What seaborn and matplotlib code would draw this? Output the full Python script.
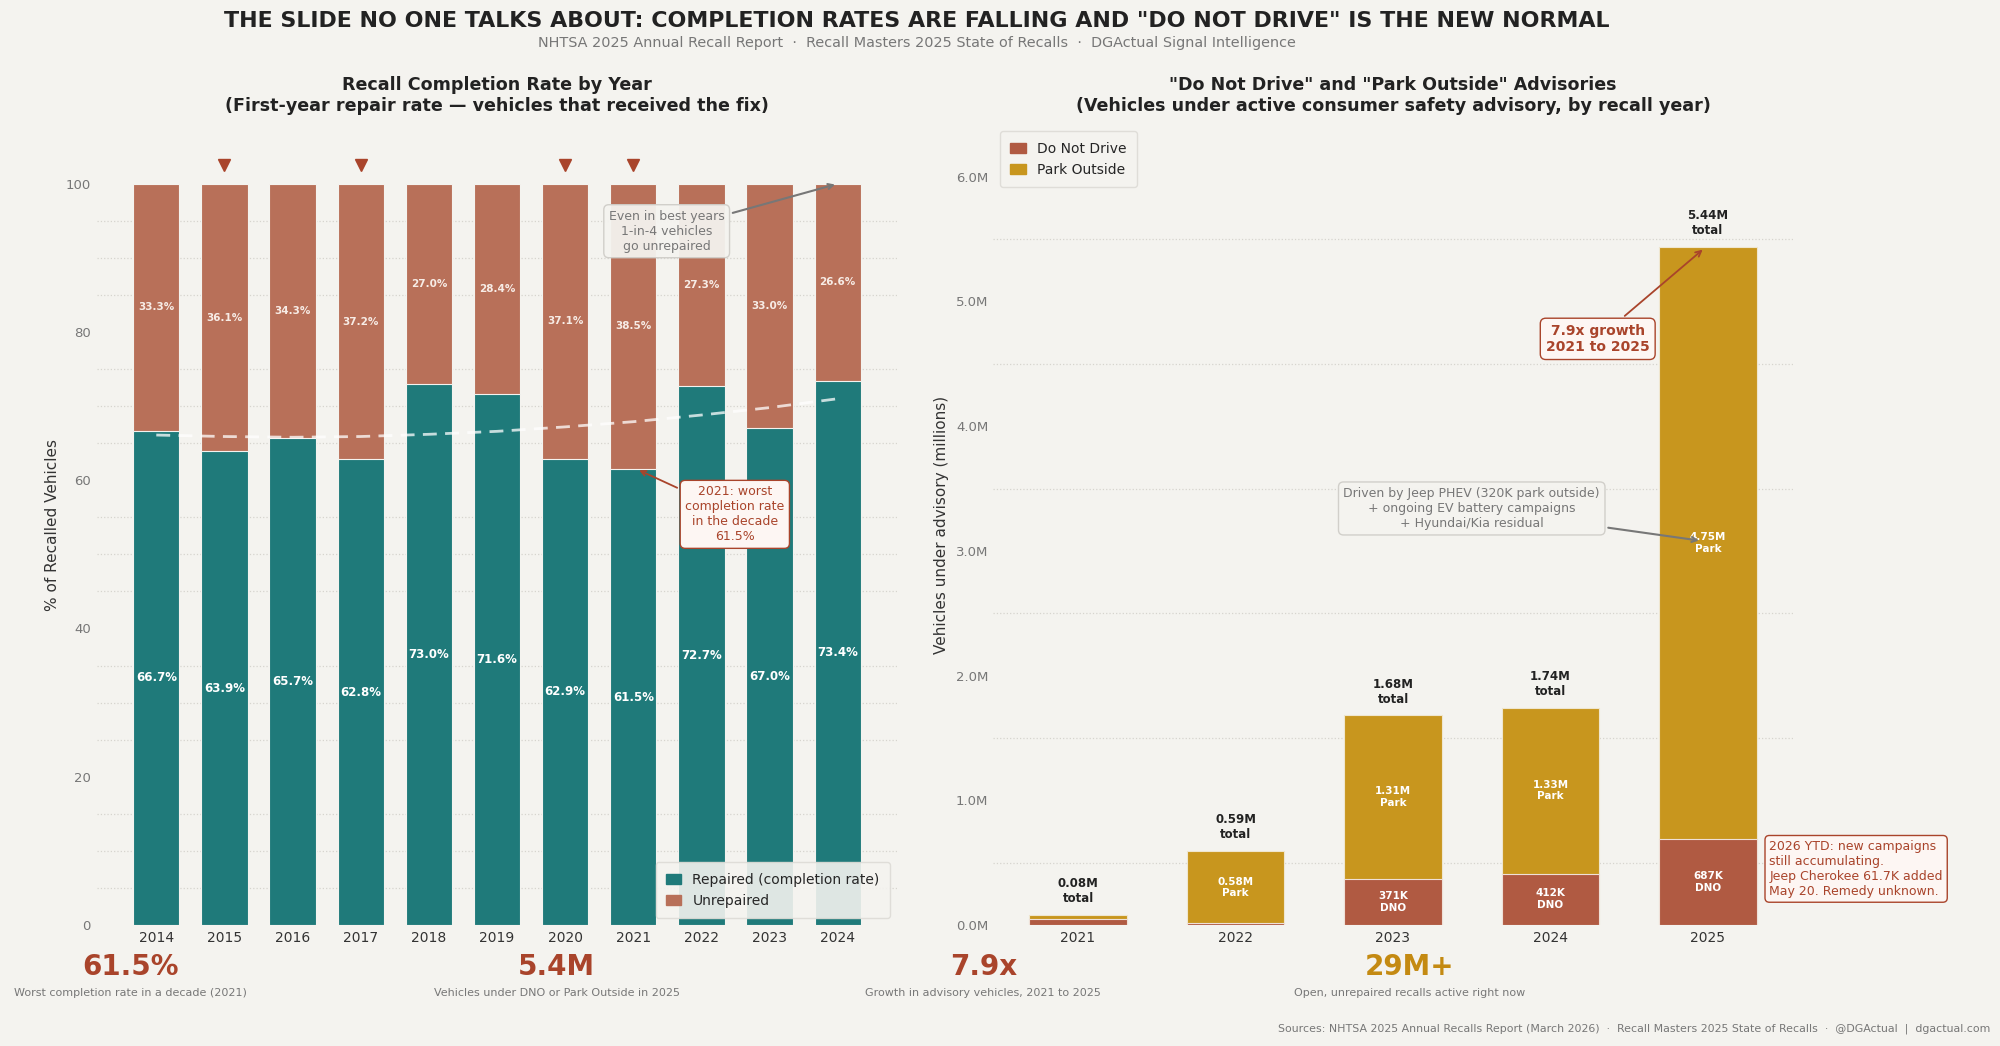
import numpy as np
import pandas as pd
import matplotlib
matplotlib.use("Agg")
import matplotlib.pyplot as plt
import seaborn as sns
from matplotlib.patches import Patch
from matplotlib.ticker import FixedLocator, FuncFormatter

# --- datos: tasa de reparacion por anio ---
years = ["2014", "2015", "2016", "2017", "2018", "2019", "2020", "2021", "2022", "2023", "2024"]
repaired = [66.7, 63.9, 65.7, 62.8, 73.0, 71.6, 62.9, 61.5, 72.7, 67.0, 73.4]
unrepaired = [33.3, 36.1, 34.3, 37.2, 27.0, 28.4, 37.1, 38.5, 27.3, 33.0, 26.6]
trend = [66.1, 65.9, 65.8, 65.9, 66.2, 66.6, 67.2, 67.9, 68.8, 69.8, 71.0]
low_years = ["2015", "2017", "2020", "2021"]

# --- datos: avisos DNO / Park Outside (millones) ---
adv_years = ["2021", "2022", "2023", "2024", "2025"]
dno = [0.045, 0.012, 0.371, 0.412, 0.687]
park = [0.035, 0.58, 1.31, 1.33, 4.75]
totals = [0.08, 0.59, 1.68, 1.74, 5.44]
dno_labels = [None, None, "371K", "412K", "687K"]
park_labels = [None, "0.58M", "1.31M", "1.33M", "4.75M"]

# --- tarjetas de resumen ---
stat_values = ["61.5%", "5.4M", "7.9x", "29M+"]
stat_texts = ["Worst completion rate in a decade (2021)",
              "Vehicles under DNO or Park Outside in 2025",
              "Growth in advisory vehicles, 2021 to 2025",
              "Open, unrepaired recalls active right now"]

BG = "#f4f3ef"
TEAL = "#1f7a7a"
UNREP = "#b87059"
DNO_C = "#b05a42"
PARK_C = "#c8961e"
ACCENT = "#a9442b"
GOLD = "#c48a12"
DARK = "#222222"
GRAY = "#777777"

sns.set_theme(style="white")
plt.rcParams["font.family"] = ["DejaVu Sans"]
plt.rcParams["figure.facecolor"] = BG
plt.rcParams["axes.facecolor"] = BG
plt.rcParams["savefig.facecolor"] = BG

fig = plt.figure(figsize=(20, 10.46), dpi=100)
ax1 = fig.add_axes([0.0485, 0.1157, 0.4, 0.7653])
ax2 = fig.add_axes([0.4965, 0.1157, 0.4, 0.7653])

# ================= panel izquierdo =================
df1 = pd.DataFrame({"year": years, "repaired": repaired, "unrepaired": unrepaired})
df1["total"] = df1["repaired"] + df1["unrepaired"]

sns.barplot(data=df1, x="year", y="total", color=UNREP, saturation=1, width=0.68,
            edgecolor=BG, linewidth=0.8, errorbar=None, ax=ax1, zorder=2)
sns.barplot(data=df1, x="year", y="repaired", color=TEAL, saturation=1, width=0.68,
            edgecolor=BG, linewidth=0.8, errorbar=None, ax=ax1, zorder=3)

for i, (r, u) in enumerate(zip(repaired, unrepaired)):
    ax1.text(i, r / 2, f"{r:.1f}%", ha="center", va="center", color="white",
             fontsize=8.5, fontweight="bold", zorder=5)
    ax1.text(i, r + u / 2, f"{u:.1f}%", ha="center", va="center", color="#f7ece6",
             fontsize=7.5, fontweight="bold", zorder=5)

ax1.plot(range(len(years)), trend, ls=(0, (5, 3)), color="white", alpha=0.75, lw=2, zorder=4)

for y in low_years:
    ax1.plot(years.index(y), 102.5, marker="v", color=ACCENT, markersize=8, ls="none",
             clip_on=False, zorder=5)

ax1.annotate("Even in best years\n1-in-4 vehicles\ngo unrepaired", xy=(10, 100), xytext=(7.49, 93.6),
             ha="center", va="center", fontsize=9, color=GRAY, zorder=6,
             bbox=dict(boxstyle="round,pad=0.4", fc=BG, ec="#cfcdc8", alpha=0.95),
             arrowprops=dict(arrowstyle="->", color=GRAY, lw=1.5))
ax1.annotate("2021: worst\ncompletion rate\nin the decade\n61.5%", xy=(7.05, 61.5), xytext=(8.49, 55.4),
             ha="center", va="center", fontsize=9, color=ACCENT, zorder=6,
             bbox=dict(boxstyle="round,pad=0.4", fc="#fdf6f3", ec=ACCENT),
             arrowprops=dict(arrowstyle="->", color=ACCENT, lw=1.3))

ax1.set_xlim(-0.87, 10.87)
ax1.set_ylim(0, 108)
ax1.yaxis.set_major_locator(FixedLocator(np.arange(0, 101, 20)))
ax1.yaxis.set_minor_locator(FixedLocator(np.arange(0, 101, 5)))
ax1.grid(which="minor", axis="y", ls=":", color="#d6d4ce", lw=0.9)
ax1.grid(which="major", axis="both", visible=False)
ax1.set_axisbelow(True)
ax1.tick_params(axis="y", which="both", length=0, labelsize=9.5, labelcolor=GRAY, pad=4.5)
ax1.tick_params(axis="x", length=0, labelsize=10, labelcolor="#333333", pad=4)
ax1.set_xlabel("")
ax1.set_ylabel("% of Recalled Vehicles", fontsize=11, color="#333333", labelpad=4)
ax1.set_title("Recall Completion Rate by Year\n(First-year repair rate \u2014 vehicles that received the fix)",
              fontsize=12.6, fontweight="bold", color=DARK, pad=10)
ax1.legend(handles=[Patch(color=TEAL, label="Repaired (completion rate)"),
                    Patch(color=UNREP, label="Unrepaired")],
           loc="lower right", fontsize=10, frameon=True, facecolor=BG, edgecolor="#dddbd6",
           framealpha=0.9, borderpad=0.75, handlelength=1.1)

# ================= panel derecho =================
df2 = pd.DataFrame({"year": adv_years, "dno": dno, "park": park})
df2["stack"] = df2["dno"] + df2["park"]

sns.barplot(data=df2, x="year", y="stack", color=PARK_C, saturation=1, width=0.62,
            edgecolor="#efe6cf", linewidth=0.8, errorbar=None, ax=ax2, zorder=2)
sns.barplot(data=df2, x="year", y="dno", color=DNO_C, saturation=1, width=0.62,
            edgecolor="#efe0d8", linewidth=0.8, errorbar=None, ax=ax2, zorder=3)

for i in range(len(adv_years)):
    if dno_labels[i]:
        ax2.text(i, dno[i] / 2, f"{dno_labels[i]}\nDNO", ha="center", va="center",
                 color="white", fontsize=7.5, fontweight="bold", zorder=5)
    if park_labels[i]:
        ax2.text(i, dno[i] + park[i] / 2, f"{park_labels[i]}\nPark", ha="center", va="center",
                 color="white", fontsize=7.5, fontweight="bold", zorder=5)
    ax2.annotate(f"{totals[i]:.2f}M\ntotal", xy=(i, dno[i] + park[i]), xytext=(0, 7),
                 textcoords="offset points", ha="center", va="bottom", color=DARK,
                 fontsize=8.5, fontweight="bold", zorder=5)

ax2.annotate("7.9x growth\n2021 to 2025", xy=(3.98, 5.43), xytext=(3.30, 4.70),
             ha="center", va="center", fontsize=10, fontweight="bold", color=ACCENT, zorder=6,
             bbox=dict(boxstyle="round,pad=0.4", fc="#fdf6f3", ec=ACCENT),
             arrowprops=dict(arrowstyle="->", color=ACCENT, lw=1.3))
ax2.annotate("Driven by Jeep PHEV (320K park outside)\n+ ongoing EV battery campaigns\n+ Hyundai/Kia residual",
             xy=(3.96, 3.08), xytext=(2.50, 3.34),
             ha="center", va="center", fontsize=9, color=GRAY, zorder=6,
             bbox=dict(boxstyle="round,pad=0.4", fc=BG, ec="#cfcdc8", alpha=0.95),
             arrowprops=dict(arrowstyle="->", color=GRAY, lw=1.5))
ax2.text(4.39, 0.45, "2026 YTD: new campaigns\nstill accumulating.\nJeep Cherokee 61.7K added\nMay 20. Remedy unknown.",
         ha="left", va="center", fontsize=9, color=ACCENT, zorder=6, clip_on=False,
         bbox=dict(boxstyle="round,pad=0.35", fc="#fdf6f3", ec=ACCENT))

ax2.set_xlim(-0.54, 4.54)
ax2.set_ylim(0, max(totals) * 1.18)
ax2.yaxis.set_major_locator(FixedLocator(np.arange(0, 6.1, 1.0)))
ax2.yaxis.set_minor_locator(FixedLocator(np.arange(0, 5.6, 0.5)))
ax2.yaxis.set_major_formatter(FuncFormatter(lambda v, p: f"{v:.1f}M"))
ax2.grid(which="minor", axis="y", ls=":", color="#d6d4ce", lw=0.9)
ax2.grid(which="major", axis="both", visible=False)
ax2.set_axisbelow(True)
ax2.tick_params(axis="y", which="both", length=0, labelsize=9.5, labelcolor=GRAY, pad=3.5)
ax2.tick_params(axis="x", length=0, labelsize=10, labelcolor="#333333", pad=4)
ax2.set_xlabel("")
ax2.set_ylabel("Vehicles under advisory (millions)", fontsize=11, color="#333333", labelpad=5)
ax2.set_title("\"Do Not Drive\" and \"Park Outside\" Advisories\n(Vehicles under active consumer safety advisory, by recall year)",
              fontsize=12.6, fontweight="bold", color=DARK, pad=10)
ax2.legend(handles=[Patch(color=DNO_C, label="Do Not Drive"),
                    Patch(color=PARK_C, label="Park Outside")],
           loc="upper left", fontsize=10, frameon=True, facecolor=BG, edgecolor="#dddbd6",
           framealpha=0.9, borderpad=0.75, handlelength=1.1)

for a in (ax1, ax2):
    sns.despine(ax=a, left=True, bottom=True)

# ================= textos de figura =================
fig.text(0.4585, 0.980, "THE SLIDE NO ONE TALKS ABOUT: COMPLETION RATES ARE FALLING AND \"DO NOT DRIVE\" IS THE NEW NORMAL",
         ha="center", va="center", fontsize=15.9, fontweight="bold", color=DARK)
fig.text(0.4585, 0.959, "NHTSA 2025 Annual Recall Report  \u00b7  Recall Masters 2025 State of Recalls  \u00b7  DGActual Signal Intelligence",
         ha="center", va="center", fontsize=10.4, color=GRAY)

stat_colors = [ACCENT, ACCENT, ACCENT, GOLD]
for k, (v, t, c) in enumerate(zip(stat_values, stat_texts, stat_colors)):
    xk = 0.065 + k * 0.2133
    fig.text(xk, 1 - 967 / 1046, v, ha="center", va="center", fontsize=20, fontweight="bold", color=c)
    fig.text(xk, 1 - 993 / 1046, t, ha="center", va="center", fontsize=8, color=GRAY)

fig.text(0.995, 1 - 1029 / 1046,
         "Sources: NHTSA 2025 Annual Recalls Report (March 2026)  \u00b7  Recall Masters 2025 State of Recalls  \u00b7  @DGActual  |  dgactual.com",
         ha="right", va="center", fontsize=7.9, color=GRAY)

fig.savefig("out.png", dpi=100)
